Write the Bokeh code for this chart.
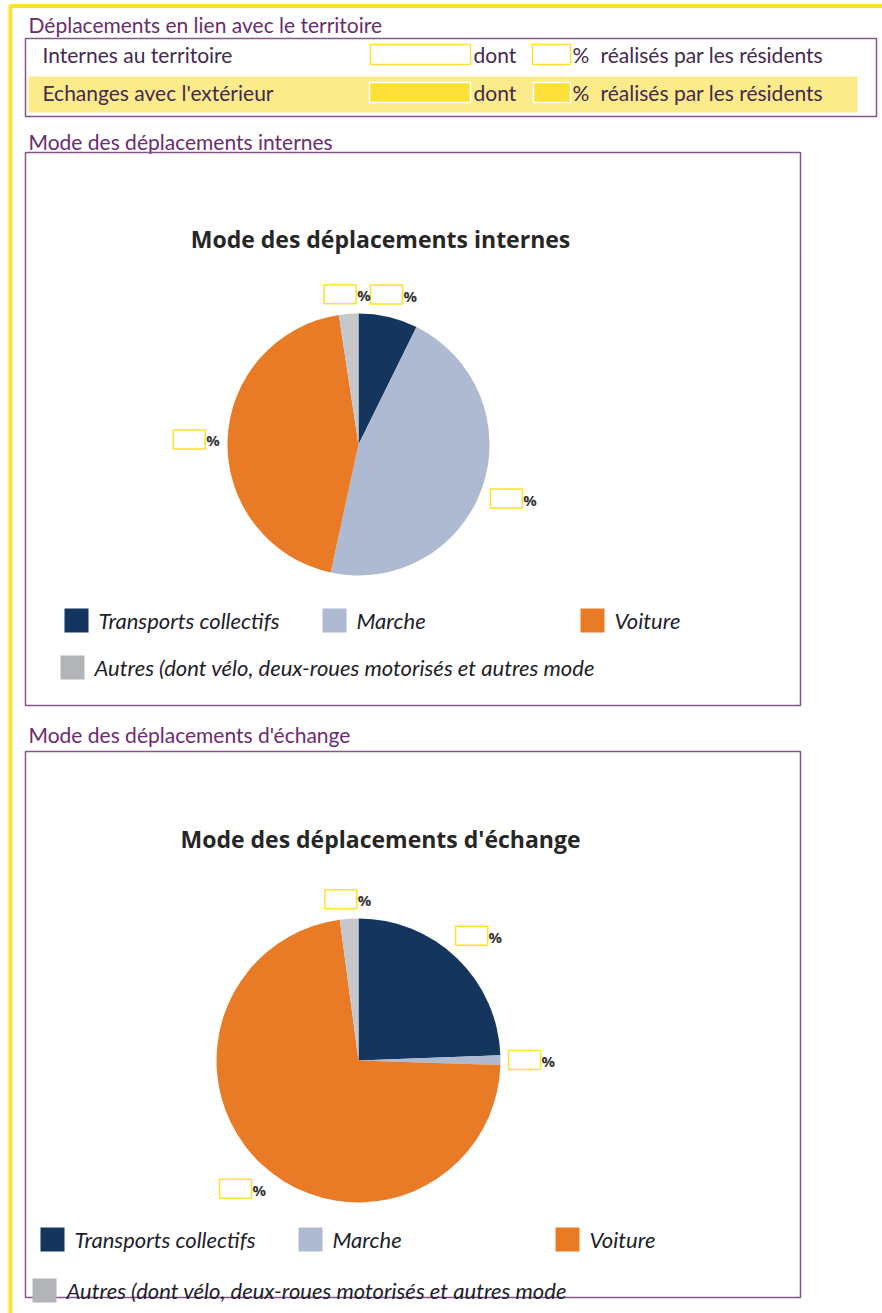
import numpy as np
from bokeh.plotting import figure
from bokeh.models import Range1d
from bokeh.core.properties import value
from bokeh.embed import file_html
from bokeh.resources import INLINE

# ---------------- data ----------------
categories = ["Transports collectifs", "Marche", "Voiture",
              "Autres (dont vélo, deux-roues motorisés et autres mode"]
internal_share = [7.3, 46.1, 44.2, 2.4]
exchange_share = [24.4, 1.1, 72.4, 2.1]
slice_colors = ["#14365E", "#AEB9D2", "#E97B27", "#C6C7CA"]
legend_colors = ["#14365E", "#AEB9D2", "#E97B27", "#B3B4B7"]

header_title = "Déplacements en lien avec le territoire"
summary_rows = ["Internes au territoire", "Echanges avec l'extérieur"]
summary_mid = "dont"
summary_pct = "%"
summary_tail = "réalisés par les résidents"
section_titles = ["Mode des déplacements internes", "Mode des déplacements d'échange"]
chart_titles = ["Mode des déplacements internes", "Mode des déplacements d'échange"]

# ---------------- figure ----------------
W, H = 882, 1313
p = figure(width=W, height=H, output_backend="svg", toolbar_location=None,
           x_range=Range1d(0, W), y_range=Range1d(0, H), min_border=0)
p.axis.visible = False
p.grid.visible = False
p.outline_line_color = None
p.background_fill_color = "white"

def Y(y):
    return H - y

FONT = value("Lato")
PURPLE = "#6B2C70"
BORDER = "#85568A"
DARK = "#45294F"
YEL = "#FFE02E"

def txt(x, y, s, size="21px", color=DARK, style="normal", align="left", font=FONT):
    p.text(x=[x], y=[Y(y)], text=[s], text_font=font, text_font_size=size,
           text_color=color, text_font_style=style, text_align=align,
           text_baseline="middle")

def box(l, r, t, b, fill=None, line=None, lw=1.0):
    p.quad(left=[l], right=[r], top=[Y(t)], bottom=[Y(b)],
           fill_color=fill if fill else "white", fill_alpha=1.0 if fill else 0.0,
           line_color=line, line_width=lw)

# yellow page frame
p.line(x=[10, W], y=[Y(5.5), Y(5.5)], line_color=YEL, line_width=4)
p.line(x=[10, 10], y=[Y(4), Y(H)], line_color=YEL, line_width=4)

# ---------------- summary block ----------------
txt(28, 24, header_title, size="21px", color=PURPLE)
box(28, 857, 76, 112, fill="#FCEB8A", line=None)
box(25, 876, 38, 116, line=BORDER, lw=1.5)
row_y = [54, 92]
for i, label in enumerate(summary_rows):
    y = row_y[i]
    txt(42, y, label, size="21px", color=DARK)
    if i == 0:
        box(370, 470, y - 10, y + 10, line=YEL, lw=1.5)
        box(532, 570, y - 10, y + 10, line=YEL, lw=1.5)
    else:
        box(369, 470, y - 10, y + 10, fill="#FFE03A", line="white", lw=1.5)
        box(533, 570, y - 10, y + 10, fill="#FFE03A", line="white", lw=1.5)
    txt(473, y, summary_mid, size="21px", color=DARK)
    txt(572, y, summary_pct, size="21px", color=DARK)
    txt(600, y, summary_tail, size="21px", color=DARK)

# ---------------- pie charts ----------------
charts = [
    dict(shares=internal_share, sec_y=141, box_t=152, box_b=705, title_y=238,
         cx=358, cy=444, r=131, leg_x=[64, 322, 580], leg_y=620, leg2_x=60, leg2_y=667),
    dict(shares=exchange_share, sec_y=734, box_t=751, box_b=1297, title_y=838,
         cx=358, cy=1060, r=142, leg_x=[40, 298, 555], leg_y=1239, leg2_x=32, leg2_y=1290),
]

for k, c in enumerate(charts):
    txt(28, c["sec_y"], section_titles[k], size="21px", color=PURPLE)
    box(25, 800, c["box_t"], c["box_b"], line=BORDER, lw=1.5)
    txt(380, c["title_y"], chart_titles[k], size="23px", color="#262626",
        style="bold", align="center", font=value("Open Sans"))

    shares = np.array(c["shares"], dtype=float)
    frac = shares / shares.sum()
    cum = np.concatenate([[0], np.cumsum(frac)])
    start = np.pi / 2 - 2 * np.pi * cum[:-1]
    end = np.pi / 2 - 2 * np.pi * cum[1:]
    p.wedge(x=c["cx"], y=Y(c["cy"]), radius=c["r"], start_angle=start, end_angle=end,
            direction="clock", fill_color=slice_colors, line_color=None)

    # value labels (masked values: empty yellow boxes + "%")
    mid = np.pi / 2 - 2 * np.pi * (cum[:-1] + frac / 2)
    for th in mid:
        ext = abs(np.cos(th)) * 23 + abs(np.sin(th)) * 10
        d = c["r"] + 8 + ext
        lx = c["cx"] + d * np.cos(th)
        ly = c["cy"] - d * np.sin(th)
        box(lx - 23, lx + 9, ly - 9.5, ly + 9.5, line=YEL, lw=1.5)
        txt(lx + 10, ly + 1, "%", size="15px", color="#333333", style="bold",
            font=value("Open Sans"))

    # legend
    for j in range(3):
        x0 = c["leg_x"][j]
        box(x0, x0 + 24, c["leg_y"] - 12, c["leg_y"] + 12, fill=legend_colors[j], line=None)
        txt(x0 + 34, c["leg_y"], categories[j], size="22px", color="#1E1E2A", style="italic")
    x0 = c["leg2_x"]
    box(x0, x0 + 24, c["leg2_y"] - 12, c["leg2_y"] + 12, fill=legend_colors[3], line=None)
    txt(x0 + 34, c["leg2_y"], categories[3], size="22px", color="#1E1E2A", style="italic")

open("out.html", "w").write(file_html(p, INLINE))
